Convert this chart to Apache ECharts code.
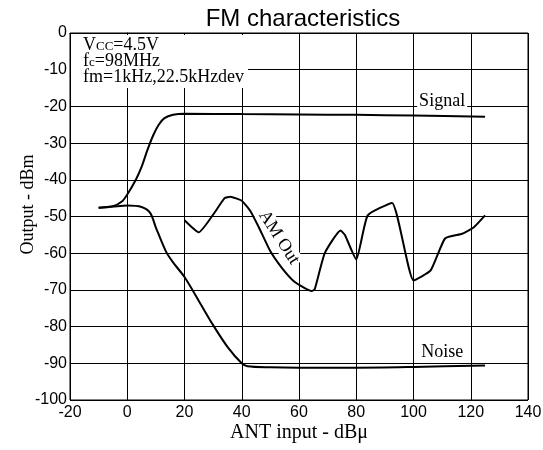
<!DOCTYPE html>
<html>
<head>
<meta charset="utf-8">
<script src="https://cdn.jsdelivr.net/npm/echarts@6/dist/echarts.min.js"></script>
<style>
  html, body { margin: 0; padding: 0; background: #fff; }
  #chart { width: 543px; height: 450px; }
</style>
</head>
<body>
<div id="chart"></div>
<script>
// ANT input (dBµ) vs output (dBm)
const signalData = [
  [-10, -47.6], [-5, -47.2], [-2, -46], [0, -44], [3, -40], [5, -36.5], [7, -32],
  [9, -28], [11, -25], [13, -23.2], [16, -22.3], [20, -22], [40, -22.1],
  [60, -22.2], [80, -22.3], [100, -22.5], [125, -22.8]
];
const noiseData = [
  [-10, -47.6], [-5, -47.3], [0, -47], [5, -47.4], [8, -49], [10, -53],
  [13.5, -59.5], [16, -62.5], [20, -66.5], [25, -73], [30, -79.6], [35, -85.5],
  [40, -90], [42, -90.8], [50, -91.1], [60, -91.2], [80, -91.2], [100, -91], [125, -90.6]
];
const amOutData = [
  [20, -51], [25, -54.3], [30, -49.5], [34, -45], [36, -44.6], [40, -45.7],
  [43, -48.5], [46, -53], [50, -59.5], [54, -64], [58, -67.5], [62, -69.5],
  [64.5, -70.3], [65.5, -69.8], [69, -60], [74.5, -53.8], [76, -55], [80, -61.7],
  [84, -49.7], [92.5, -46.3], [100, -67.4], [106, -64.7], [111, -56], [117, -54.7],
  [121, -53], [125, -49.7]
];
const curveLabels = [
  { name: "Signal", coord: [110, -18.6] },
  { name: "Noise", coord: [110, -87] }
];
const amLabel = { name: "AM Out", coord: [53, -55.7] };

const chart = echarts.init(document.getElementById("chart"));
const serif = "Liberation Serif";
const sans = "Liberation Sans";

function lineSeries(name, data, smooth) {
  return {
    name: name,
    type: "line",
    data: data,
    smooth: smooth,
    showSymbol: false,
    lineStyle: { color: "#000", width: 2 },
    animation: false,
    z: 3
  };
}

function labelSeries(points, rotate) {
  return {
    type: "scatter",
    symbolSize: 0,
    silent: true,
    z: 4,
    itemStyle: { opacity: 1 },
    data: points.map(d => ({ value: d.coord, name: d.name })),
    label: {
      show: true,
      position: "inside",
      formatter: "{b}",
      rotate: rotate,
      fontFamily: serif,
      fontSize: 18,
      color: "#000",
      opacity: 1,
      backgroundColor: "#fff",
      padding: [0, 2]
    }
  };
}

chart.setOption({
  animation: false,
  title: {
    text: "FM characteristics",
    left: 298,
    textAlign: "center",
    top: 2,
    textStyle: { fontFamily: sans, fontSize: 24, fontWeight: "normal", color: "#000" }
  },
  grid: {
    left: 70, right: 15, top: 33, bottom: 50,
    outerBoundsMode: "none",
    show: true, borderColor: "#000", borderWidth: 1
  },
  xAxis: {
    type: "value",
    min: -20,
    max: 140,
    interval: 20,
    name: "ANT input - dBμ",
    nameLocation: "middle",
    nameGap: 23,
    nameMoveOverlap: false,
    nameTextStyle: { fontFamily: serif, fontSize: 20, color: "#000" },
    axisLine: { lineStyle: { color: "#000" } },
    axisTick: { show: true, length: 4, lineStyle: { color: "#000" } },
    axisLabel: { fontFamily: sans, fontSize: 16, color: "#000", margin: 5 },
    splitLine: { lineStyle: { color: "#000", width: 1 } }
  },
  yAxis: {
    type: "value",
    min: -100,
    max: 0,
    interval: 10,
    name: "Output - dBm",
    nameLocation: "middle",
    nameGap: 33,
    nameMoveOverlap: false,
    nameTextStyle: { fontFamily: serif, fontSize: 18, color: "#000", padding: [0, 0, 0, 24] },
    axisLine: { show: true, lineStyle: { color: "#000" } },
    axisTick: { show: true, length: 4, lineStyle: { color: "#000" } },
    axisLabel: { fontFamily: sans, fontSize: 16, color: "#000", margin: 3 },
    splitLine: { lineStyle: { color: "#000", width: 1 } }
  },
  graphic: [
    {
      type: "rect",
      left: 71,
      top: 35,
      shape: { width: 177, height: 53 },
      style: { fill: "#fff" },
      z: 5
    },
    {
      type: "text",
      left: 83,
      top: 36,
      z: 6,
      style: {
        text: "{n|V}{s|CC}{n|=4.5V}\n{n|f}{s|c}{n|=98MHz}\n{n|fm=1kHz,22.5kHzdev}",
        fill: "#000",
        rich: {
          n: { fontFamily: serif, fontSize: 18, lineHeight: 16 },
          s: { fontFamily: serif, fontSize: 13, lineHeight: 8, verticalAlign: "bottom" }
        }
      }
    }
  ],
  series: [
    lineSeries("Signal", signalData, 0.3),
    lineSeries("Noise", noiseData, 0.3),
    lineSeries("AM Out", amOutData, 0.15),
    labelSeries(curveLabels, 0),
    labelSeries([amLabel], -57)
  ]
});
</script>
</body>
</html>
